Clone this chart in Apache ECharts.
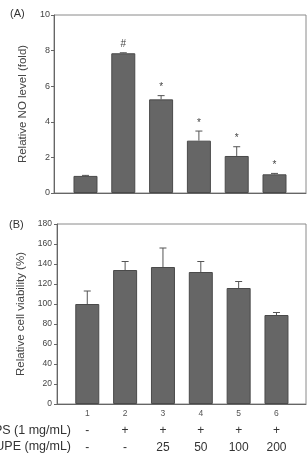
<!DOCTYPE html>
<html>
<head>
<meta charset="utf-8">
<script src="https://cdn.jsdelivr.net/npm/echarts@6/dist/echarts.min.js"></script>
<style>
  html, body { margin: 0; padding: 0; background: #fff; }
  #chart { width: 308px; height: 454px; }
</style>
</head>
<body>
<div id="chart"></div>
<script>
// group numbers (bar positions)
const groups = [1, 2, 3, 4, 5, 6]
// (A) relative NO level, mean and upper error
const noMean = [0.96, 7.85, 5.26, 2.94, 2.08, 1.05]
const noErr = [0.03, 0.03, 0.21, 0.54, 0.52, 0.05]
const noMarks = ['', '#', '*', '*', '*', '*']
// (B) relative cell viability (%)
const viaMean = [100, 134, 137, 132, 116, 89]
const viaErr = [13, 8.5, 19, 10.5, 6.5, 2.5]
// treatment rows under the chart
const lpsRow = ['-', '+', '+', '+', '+', '+']
const upeRow = ['-', '-', '25', '50', '100', '200']

const FONT = 'Liberation Sans'
const barFill = '#666666'
const barEdge = '#4a4a4a'
const frame = '#8a8a8a'

const chart = echarts.init(document.getElementById('chart'))

const errItem = (marks) => (params, api) => {
  const x = api.value(0)
  const m = api.value(1)
  const e = api.value(2)
  const base = api.coord([x, m])
  const top = api.coord([x, m + e])
  const children = [
    { type: 'line', shape: { x1: base[0], y1: base[1], x2: top[0], y2: top[1] }, style: { stroke: '#555', lineWidth: 1 } },
    { type: 'line', shape: { x1: top[0] - 3.5, y1: top[1], x2: top[0] + 3.5, y2: top[1] }, style: { stroke: '#555', lineWidth: 1 } }
  ]
  const mk = marks ? marks[params.dataIndex] : ''
  if (mk) {
    children.push({
      type: 'text',
      style: {
        text: mk, x: top[0], y: top[1] - 3,
        textAlign: 'center', textVerticalAlign: 'bottom',
        font: '10px ' + FONT, fill: '#444'
      }
    })
  }
  return { type: 'group', children }
}

const xBase = (grid, extra) => Object.assign({
  type: 'value',
  gridIndex: grid,
  position: 'bottom',
  min: grid === 0 ? 0.167 : 0.2,
  max: grid === 0 ? 6.833 : 6.78,
  splitLine: { show: false },
  axisTick: { show: false },
  axisLine: { show: true, onZero: false, lineStyle: { color: '#666' } },
  axisLabel: { show: false }
}, extra)

const rowLabel = (arr) => ({
  show: true,
  customValues: groups,
  margin: 4,
  fontFamily: FONT,
  fontSize: 12,
  color: '#333',
  formatter: (v) => arr[Math.round(v) - 1]
})

const option = {
  animation: false,
  grid: [
    { left: 54, top: 15, right: 2, bottom: 261, show: true, borderColor: frame, borderWidth: 1 },
    { left: 57, top: 224, right: 2, bottom: 50, show: true, borderColor: frame, borderWidth: 1 }
  ],
  xAxis: [
    xBase(0),
    xBase(1, {
      axisLabel: {
        show: true, customValues: groups, margin: 5,
        fontFamily: FONT, fontSize: 8.5, color: '#555',
        formatter: (v) => String(Math.round(v))
      }
    }),
    xBase(1, { axisLine: { show: false }, offset: 17, axisLabel: rowLabel(lpsRow) }),
    xBase(1, { axisLine: { show: false }, offset: 34, axisLabel: rowLabel(upeRow) })
  ],
  yAxis: [
    {
      type: 'value', gridIndex: 0, min: 0, max: 10, interval: 2,
      name: 'Relative NO level (fold)', nameLocation: 'middle', nameGap: 16,
      nameTextStyle: { fontFamily: FONT, fontSize: 11.5, color: '#444' },
      splitLine: { show: false },
      axisLine: { show: true, lineStyle: { color: '#666' } },
      axisTick: { show: true, length: 3, lineStyle: { color: '#666' } },
      axisLabel: { fontFamily: FONT, fontSize: 9, color: '#444', margin: 4 }
    },
    {
      type: 'value', gridIndex: 1, min: 0, max: 180, interval: 20,
      name: 'Relative cell viability (%)', nameLocation: 'middle', nameGap: 25,
      nameTextStyle: { fontFamily: FONT, fontSize: 11.5, color: '#444' },
      splitLine: { show: false },
      axisLine: { show: true, lineStyle: { color: '#666' } },
      axisTick: { show: true, length: 3, lineStyle: { color: '#666' } },
      axisLabel: { fontFamily: FONT, fontSize: 8.5, color: '#444', margin: 5 }
    }
  ],
  series: [
    {
      type: 'bar', xAxisIndex: 0, yAxisIndex: 0, barWidth: 24,
      data: groups.map((g, i) => [g, noMean[i]]),
      itemStyle: { color: barFill, borderColor: barEdge, borderWidth: 1 }
    },
    {
      type: 'custom', xAxisIndex: 0, yAxisIndex: 0,
      renderItem: errItem(noMarks),
      data: groups.map((g, i) => [g, noMean[i], noErr[i]]),
      z: 5
    },
    {
      type: 'bar', xAxisIndex: 1, yAxisIndex: 1, barWidth: 24,
      data: groups.map((g, i) => [g, viaMean[i]]),
      itemStyle: { color: barFill, borderColor: barEdge, borderWidth: 1 }
    },
    {
      type: 'custom', xAxisIndex: 1, yAxisIndex: 1,
      renderItem: errItem(null),
      data: groups.map((g, i) => [g, viaMean[i], viaErr[i]]),
      z: 5
    }
  ],
  graphic: [
    { type: 'text', left: 10, top: 8, style: { text: '(A)', font: '11px ' + FONT, fill: '#333' } },
    { type: 'text', left: 9, top: 219, style: { text: '(B)', font: '11px ' + FONT, fill: '#333' } },
    { type: 'text', x: 71, y: 431, style: { text: 'LPS (1 mg/mL)', textAlign: 'right', textVerticalAlign: 'middle', font: '12.5px ' + FONT, fill: '#333' } },
    { type: 'text', x: 71, y: 447, style: { text: 'UPE (mg/mL)', textAlign: 'right', textVerticalAlign: 'middle', font: '12.5px ' + FONT, fill: '#333' } }
  ]
}

chart.setOption(option)
window.addEventListener('resize', () => chart.resize())
</script>
</body>
</html>
